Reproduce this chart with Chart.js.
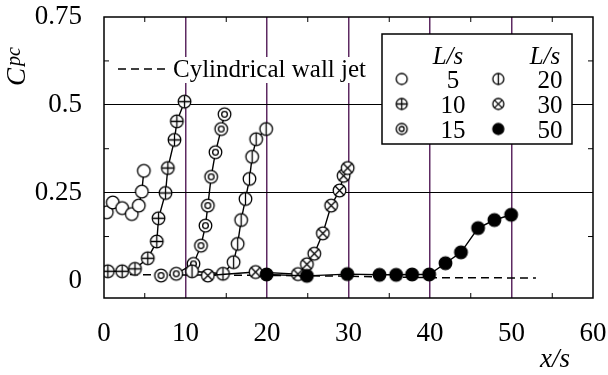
<!DOCTYPE html>
<html>
<head>
<meta charset="utf-8">
<script src="https://cdn.jsdelivr.net/npm/chart.js@4.4.1/dist/chart.umd.min.js"></script>
<style>
  body { margin: 0; background: #fff; }
  canvas { display: block; }
</style>
</head>
<body>
<canvas id="graf" width="608" height="375"></canvas>
<script>
// C_pc along x/s for several L/s values
var x5  = [0.34, 1.08, 2.23, 3.41, 4.27, 4.64, 4.89];
var y5  = [0.194, 0.222, 0.206, 0.189, 0.213, 0.253, 0.312];
var x10 = [0.47, 2.23, 3.8, 5.37, 6.48, 6.69, 7.55, 7.83, 8.65, 8.94, 9.88];
var y10 = [0.026, 0.026, 0.033, 0.063, 0.111, 0.177, 0.249, 0.320, 0.400, 0.453, 0.509];
var x15 = [7.0, 8.86, 10.98, 11.9, 12.45, 12.74, 13.15, 13.68, 14.38, 14.79];
var y15 = [0.014, 0.019, 0.047, 0.099, 0.156, 0.213, 0.295, 0.365, 0.431, 0.473];
var x20 = [10.8, 14.6, 15.9, 16.4, 16.83, 17.36, 17.85, 18.18, 18.67, 19.9];
var y20 = [0.026, 0.019, 0.052, 0.104, 0.172, 0.232, 0.289, 0.352, 0.402, 0.431];
var x30 = [12.74, 18.6, 23.8, 24.9, 25.8, 26.85, 27.87, 28.9, 29.4, 29.9];
var y30 = [0.014, 0.024, 0.018, 0.046, 0.076, 0.134, 0.213, 0.256, 0.298, 0.320];
var x50 = [19.95, 24.9, 29.85, 33.8, 35.85, 37.8, 39.9, 41.9, 43.8, 45.9, 47.9, 49.96];
var y50 = [0.017, 0.013, 0.018, 0.016, 0.016, 0.017, 0.017, 0.049, 0.080, 0.149, 0.172, 0.187];
// cylindrical wall jet (dashed)
var xJet = [0, 5, 17, 30, 40, 53];
var yJet = [0.018, 0.016, 0.015, 0.012, 0.008, 0.007];

var yTicks = [0, 0.25, 0.5, 0.75];
var legendRows = [["5", "20"], ["10", "30"], ["15", "50"]];

var serif = "'Liberation Serif', 'Times New Roman', serif";
var purple = "#5e2a62";

function pts(xs, ys) {
  return xs.map(function (x, i) { return { x: x, y: ys[i] }; });
}

// little canvases for the gnuplot-like symbols
function marker(kind, r) {
  var s = Math.ceil(2 * r + 4), c = document.createElement("canvas");
  c.width = s; c.height = s;
  var g = c.getContext("2d"), m = s / 2;
  g.lineWidth = 1.3; g.strokeStyle = "#000";
  g.beginPath(); g.arc(m, m, r, 0, 2 * Math.PI);
  g.fillStyle = kind === "filled" ? "#000" : "#fff";
  g.fill(); g.stroke();
  g.beginPath();
  if (kind === "plus") { g.moveTo(m - r, m); g.lineTo(m + r, m); g.moveTo(m, m - r); g.lineTo(m, m + r); }
  if (kind === "vline") { g.moveTo(m, m - r); g.lineTo(m, m + r); }
  if (kind === "cross") { var d = r * 0.707; g.moveTo(m - d, m - d); g.lineTo(m + d, m + d); g.moveTo(m + d, m - d); g.lineTo(m - d, m + d); }
  if (kind === "double") { g.arc(m, m, r * 0.45, 0, 2 * Math.PI); }
  g.stroke();
  return c;
}

var kinds = [["open", "vline"], ["plus", "cross"], ["double", "filled"]];
var plotMk = {}, legMk = {};
["open", "plus", "double", "vline", "cross", "filled"].forEach(function (k) {
  plotMk[k] = marker(k, 6.3);
  legMk[k] = marker(k, 5.5);
});

function series(xs, ys, kind, extra) {
  var d = {
    data: pts(xs, ys), showLine: true, borderColor: "#000", borderWidth: 1.4,
    pointStyle: plotMk[kind], pointRadius: 6, tension: 0
  };
  for (var k in extra) d[k] = extra[k];
  return d;
}

// frame, minor ticks, titles and keys
var decor = {
  id: "decor",
  afterDraw: function (chart) {
    var ctx = chart.ctx, a = chart.chartArea, sx = chart.scales.x, sy = chart.scales.y;
    ctx.save();
    ctx.strokeStyle = "#000"; ctx.lineWidth = 1;
    ctx.beginPath();
    [5, 15, 25, 35, 45, 55].forEach(function (v) {
      var p = sx.getPixelForValue(v);
      ctx.moveTo(p, a.bottom); ctx.lineTo(p, a.bottom - 5);
      ctx.moveTo(p, a.top); ctx.lineTo(p, a.top + 5);
    });
    [0.125, 0.375, 0.625].forEach(function (v) {
      var p = sy.getPixelForValue(v);
      ctx.moveTo(a.left, p); ctx.lineTo(a.left + 5, p);
      ctx.moveTo(a.right, p); ctx.lineTo(a.right - 5, p);
    });
    ctx.stroke();
    ctx.lineWidth = 1.5;
    ctx.strokeRect(a.left, a.top, a.right - a.left, a.bottom - a.top);

    // axis titles
    ctx.fillStyle = "#000";
    ctx.save();
    ctx.translate(25, 86);
    ctx.rotate(-Math.PI / 2);
    ctx.textBaseline = "alphabetic"; ctx.textAlign = "left";
    ctx.font = "italic 27px " + serif;
    ctx.fillText("C", 0, 0);
    ctx.font = "italic 20px " + serif;
    ctx.fillText("pc", 20, -5);
    ctx.restore();
    ctx.font = "italic 27px " + serif;
    ctx.textAlign = "center";
    ctx.fillText("x/s", 555, 367);

    // dashed key
    ctx.font = "25px " + serif;
    ctx.textAlign = "left";
    var tw = ctx.measureText("Cylindrical wall jet").width;
    ctx.fillStyle = "#fff";
    ctx.fillRect(114, 57, tw + 64, 26);
    ctx.fillStyle = "#000";
    ctx.fillText("Cylindrical wall jet", 173, 77);
    ctx.setLineDash([8, 5]);
    ctx.beginPath(); ctx.moveTo(118, 69); ctx.lineTo(168, 69); ctx.stroke();
    ctx.setLineDash([]);

    // L/s key box
    ctx.fillStyle = "#fff";
    ctx.fillRect(382, 34, 190, 110);
    ctx.strokeRect(382, 34, 190, 110);
    ctx.fillStyle = "#000";
    ctx.textAlign = "center";
    ctx.font = "italic 25px " + serif;
    ctx.fillText("L/s", 448, 64);
    ctx.fillText("L/s", 545, 64);
    ctx.font = "25px " + serif;
    legendRows.forEach(function (row, i) {
      var base = 88 + i * 25;
      [0, 1].forEach(function (j) {
        var img = legMk[kinds[i][j]];
        var mx = j === 0 ? 401.7 : 498.3;
        ctx.drawImage(img, mx - img.width / 2, base - 9 - img.height / 2);
        ctx.fillText(row[j], j === 0 ? 453 : 550, base);
      });
    });
    ctx.restore();
  }
};

new Chart(document.getElementById("graf"), {
  type: "scatter",
  data: {
    datasets: [
      series(x50, y50, "filled"),
      series(x30, y30, "cross"),
      series(x20, y20, "vline"),
      series(x15, y15, "double", {
        segment: { borderColor: function (c) { return c.p0DataIndex === 0 ? "rgba(0,0,0,0)" : undefined; } }
      }),
      series(x10, y10, "plus"),
      series(x5, y5, "open"),
      {
        data: pts(xJet, yJet), showLine: true, borderColor: "#000", borderWidth: 1.5,
        borderDash: [8, 5], pointRadius: 0, tension: 0
      }
    ]
  },
  options: {
    responsive: false,
    animation: false,
    layout: { padding: { top: 17, right: 15, left: 0, bottom: 0 } },
    plugins: { legend: { display: false }, tooltip: { enabled: false } },
    scales: {
      x: {
        type: "linear", min: 0, max: 60,
        ticks: { stepSize: 10, color: "#000", font: { family: serif, size: 27 }, padding: 20, maxRotation: 0 },
        grid: {
          drawTicks: false, lineWidth: 1.5,
          color: function (c) { return (c.tick && c.tick.value > 0 && c.tick.value < 60) ? purple : "rgba(0,0,0,0)"; }
        },
        border: { display: false },
        afterFit: function (s) { s.height = 77; s.paddingLeft = 0; s.paddingRight = 0; }
      },
      y: {
        min: -0.05, max: 0.75,
        afterBuildTicks: function (s) { s.ticks = yTicks.map(function (v) { return { value: v }; }); },
        ticks: {
          color: "#000", font: { family: serif, size: 27 }, padding: 22,
          callback: function (v) { return String(v); }
        },
        grid: {
          drawTicks: false, lineWidth: 1,
          color: function (c) { return (c.tick && (c.tick.value === 0.25 || c.tick.value === 0.5)) ? "#000" : "rgba(0,0,0,0)"; }
        },
        border: { display: false },
        afterFit: function (s) { s.width = 104; s.paddingTop = 0; s.paddingBottom = 0; }
      }
    }
  },
  plugins: [decor]
});
</script>
</body>
</html>
